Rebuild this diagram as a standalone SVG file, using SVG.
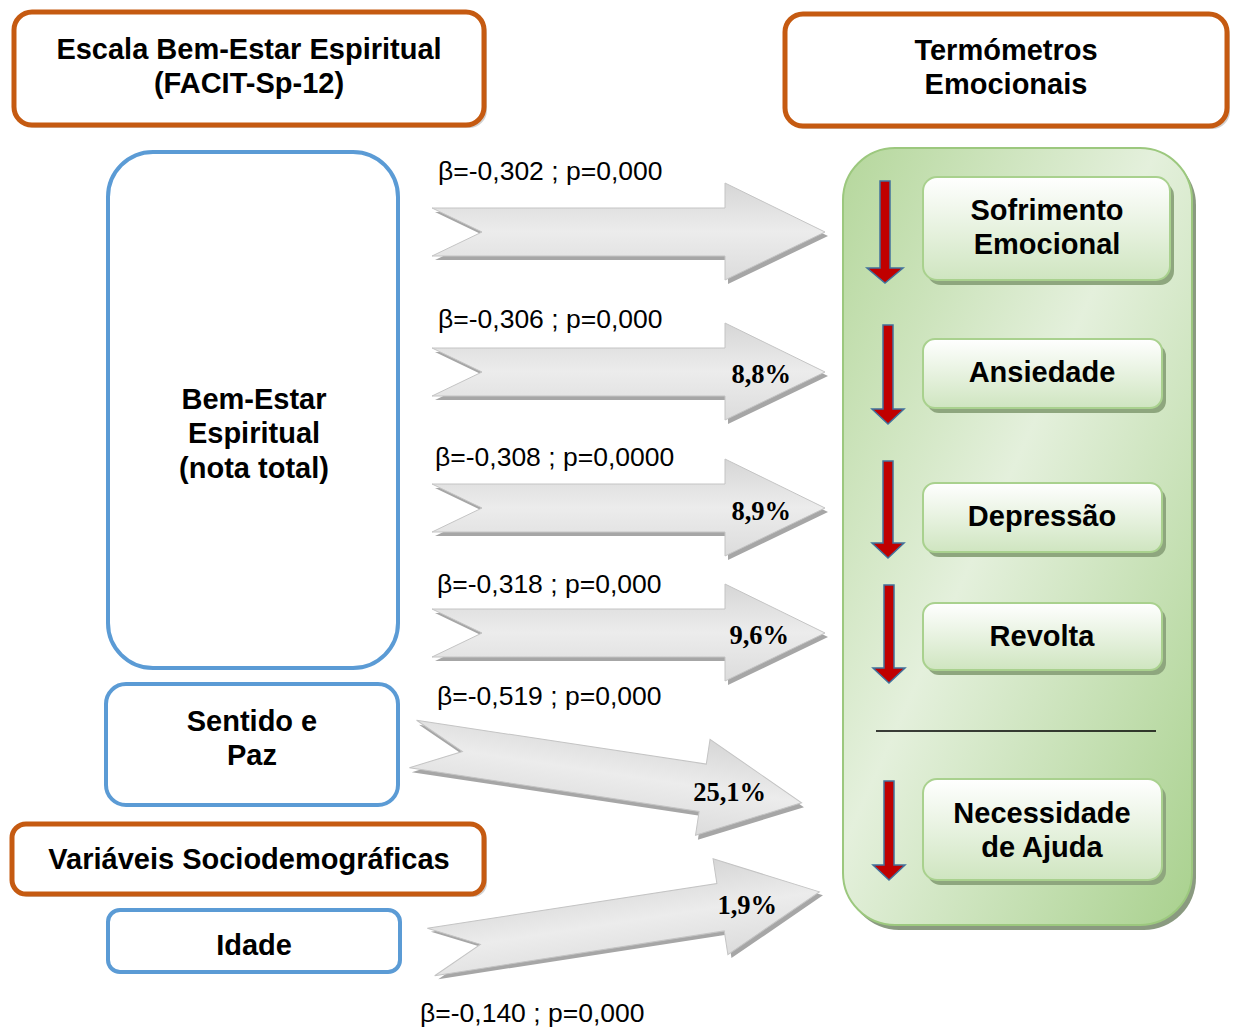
<svg xmlns="http://www.w3.org/2000/svg" width="1233" height="1028" viewBox="0 0 1233 1028">
<style>
.t{font-family:"Liberation Sans",Arial,sans-serif;font-weight:bold;font-size:29px;fill:#000;text-anchor:middle}
.b{font-family:"Liberation Sans",Arial,sans-serif;font-size:26.5px;fill:#000}
.p{font-family:"Liberation Serif","Times New Roman",serif;font-weight:bold;font-size:26.5px;fill:#000;text-anchor:end}
.or{fill:#fff;stroke:#c55a11;stroke-width:5}
.bl{fill:#fff;stroke:#5b9bd5;stroke-width:4}
.sh{fill:#000;opacity:0.18}
.ib{fill:url(#ig);stroke:#a9d18e;stroke-width:2}
.ibs{fill:#8ea67e}
.ra{fill:#c00000;stroke:#41719c;stroke-width:1.5}
.ga{fill:url(#gg);stroke:#c4c4c4;stroke-width:1}
.gs{fill:#a6a6a6}
</style>
<defs>
<linearGradient id="gg" x1="0" y1="0" x2="0" y2="1">
<stop offset="0" stop-color="#d6d6d6"/>
<stop offset="0.5" stop-color="#ececec"/>
<stop offset="1" stop-color="#dcdcdc"/>
</linearGradient>
<linearGradient id="pg" x1="0" y1="0" x2="1" y2="1">
<stop offset="0" stop-color="#b5d79c"/>
<stop offset="0.45" stop-color="#e4f0dc"/>
<stop offset="1" stop-color="#a9d18e"/>
</linearGradient>
<linearGradient id="ig" x1="0" y1="0" x2="0" y2="1">
<stop offset="0" stop-color="#ffffff"/>
<stop offset="1" stop-color="#cfe5c0"/>
</linearGradient>
<polygon id="ga" points="0,-24 293,-24 293,-49 393,0 293,48 293,24 0,24 50,0"/>
</defs>

<g id="connectors">
<g transform="translate(432,232)"><use href="#ga" class="gs" transform="translate(3,4)"/><use href="#ga" class="ga"/></g>
<g transform="translate(432,372)"><use href="#ga" class="gs" transform="translate(3,4)"/><use href="#ga" class="ga"/></g>
<g transform="translate(432,508)"><use href="#ga" class="gs" transform="translate(3,4)"/><use href="#ga" class="ga"/></g>
<g transform="translate(432,633)"><use href="#ga" class="gs" transform="translate(3,4)"/><use href="#ga" class="ga"/></g>
<g transform="translate(413,744) rotate(8.6)"><use href="#ga" class="gs" transform="translate(3,4)"/><use href="#ga" class="ga"/></g>
<g transform="translate(431,952) rotate(-8.8)"><use href="#ga" class="gs" transform="translate(3,4)"/><use href="#ga" class="ga"/></g>
</g>

<g id="labels">
<text class="b" x="438" y="180">β=-0,302 ; p=0,000</text>
<text class="b" x="438" y="328">β=-0,306 ; p=0,000</text>
<text class="b" x="435" y="466">β=-0,308 ; p=0,0000</text>
<text class="b" x="437" y="593">β=-0,318 ; p=0,000</text>
<text class="b" x="437" y="705">β=-0,519 ; p=0,000</text>
<text class="b" x="420" y="1022">β=-0,140 ; p=0,000</text>
<text class="p" x="791" y="383">8,8%</text>
<text class="p" x="791" y="520">8,9%</text>
<text class="p" x="789" y="644">9,6%</text>
<text class="p" x="766" y="801">25,1%</text>
<text class="p" x="777" y="914">1,9%</text>
</g>

<g id="escala">
<rect x="17" y="15" width="470" height="113" rx="18" class="sh"/>
<rect x="14" y="12" width="470" height="113" rx="18" class="or"/>
<text class="t" x="249" y="59">Escala Bem-Estar Espiritual</text>
<text class="t" x="249" y="93">(FACIT-Sp-12)</text>
</g>

<g id="termometros">
<rect x="788" y="17" width="442" height="112" rx="18" class="sh"/>
<rect x="785" y="14" width="442" height="112" rx="18" class="or"/>
<text class="t" x="1006" y="60">Termómetros</text>
<text class="t" x="1006" y="94">Emocionais</text>
</g>

<g id="bem-estar">
<rect x="108" y="152" width="290" height="516" rx="45" class="bl"/>
<text class="t" x="254" y="409">Bem-Estar</text>
<text class="t" x="254" y="443">Espiritual</text>
<text class="t" x="254" y="478">(nota total)</text>
</g>

<g id="sentido">
<rect x="106" y="684" width="292" height="121" rx="20" class="bl"/>
<text class="t" x="252" y="731">Sentido e</text>
<text class="t" x="252" y="765">Paz</text>
</g>

<g id="variaveis">
<rect x="15" y="827" width="472" height="70" rx="14" class="sh"/>
<rect x="12" y="824" width="472" height="70" rx="14" class="or"/>
<text class="t" x="249" y="869">Variáveis Sociodemográficas</text>
</g>

<g id="idade">
<rect x="108" y="910" width="292" height="62" rx="12" class="bl"/>
<text class="t" x="254" y="955">Idade</text>
</g>

<g id="painel">
<rect x="847" y="153" width="349" height="777" rx="52" fill="#8a9a80"/>
<rect x="843" y="148" width="349" height="777" rx="52" fill="url(#pg)" stroke="#9cc87e" stroke-width="2"/>
<line x1="876" y1="731" x2="1156" y2="731" stroke="#000" stroke-width="1.5"/>
</g>

<g id="sofrimento">
<rect x="927" y="182" width="247" height="103" rx="14" class="ibs"/>
<rect x="923" y="177" width="247" height="103" rx="14" class="ib"/>
<polygon class="ra" points="880,181 890,181 890,268 903,268 885,283 867,268 880,268"/>
<text class="t" x="1047" y="220">Sofrimento</text>
<text class="t" x="1047" y="254">Emocional</text>
</g>

<g id="ansiedade">
<rect x="927" y="344" width="239" height="69" rx="12" class="ibs"/>
<rect x="923" y="339" width="239" height="69" rx="12" class="ib"/>
<polygon class="ra" points="883,325 893,325 893,409 904,409 888,424 872,409 883,409"/>
<text class="t" x="1042" y="382">Ansiedade</text>
</g>

<g id="depressao">
<rect x="927" y="488" width="239" height="69" rx="12" class="ibs"/>
<rect x="923" y="483" width="239" height="69" rx="12" class="ib"/>
<polygon class="ra" points="883,461 893,461 893,543 904,543 888,558 872,543 883,543"/>
<text class="t" x="1042" y="526">Depressão</text>
</g>

<g id="revolta">
<rect x="927" y="608" width="239" height="67" rx="12" class="ibs"/>
<rect x="923" y="603" width="239" height="67" rx="12" class="ib"/>
<polygon class="ra" points="884,585 894,585 894,668 905,668 889,683 873,668 884,668"/>
<text class="t" x="1042" y="646">Revolta</text>
</g>

<g id="necessidade">
<rect x="927" y="784" width="239" height="101" rx="14" class="ibs"/>
<rect x="923" y="779" width="239" height="101" rx="14" class="ib"/>
<polygon class="ra" points="884,781 894,781 894,865 905,865 889,880 873,865 884,865"/>
<text class="t" x="1042" y="823">Necessidade</text>
<text class="t" x="1042" y="857">de Ajuda</text>
</g>
</svg>
